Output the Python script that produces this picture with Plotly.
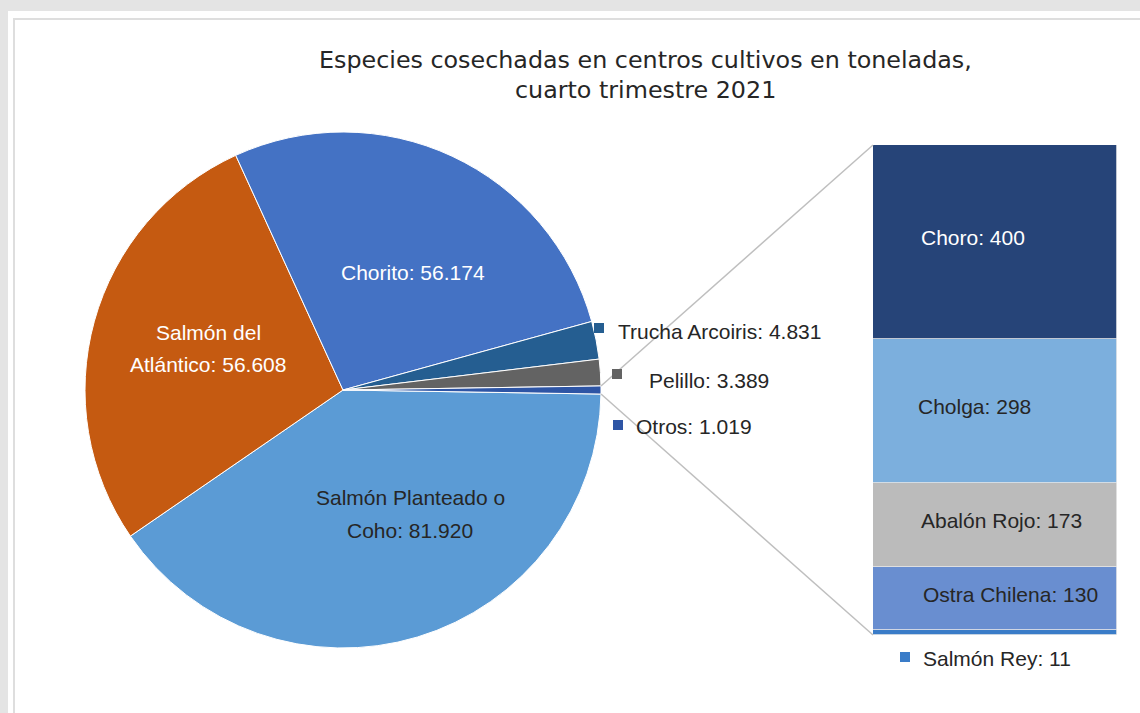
import math
import plotly.graph_objects as go

W, H = 1140, 713

# pie data (clockwise from 3 o'clock)
pie_labels = ["Salmón Planteado o Coho", "Salmón del Atlántico", "Chorito",
              "Trucha Arcoiris", "Pelillo", "Otros"]
pie_values = [81.920, 56.608, 56.174, 4.831, 3.389, 1.019]
pie_text = ["81.920", "56.608", "56.174", "4.831", "3.389", "1.019"]
pie_colors = ["#5B9BD5", "#C55A11", "#4472C4", "#255E91", "#636363", "#2E55A5"]

# bar data ("Otros" broken down), top to bottom
bar_labels = ["Choro", "Cholga", "Abalón Rojo", "Ostra Chilena", "Salmón Rey"]
bar_values = [400, 298, 173, 130, 11]
bar_colors = ["#264478", "#7CAFDD", "#BBBBBB", "#698ED0", "#3A7CC8"]

title_lines = ["Especies cosechadas en centros cultivos en toneladas,",
               "cuarto trimestre 2021"]


def px(x):
    return x / W


def py(y):
    return 1 - y / H


# pie geometry (pixels)
cx, cy, r = 343, 390, 258
bx0, bx1, by0, by1 = 873, 1117, 145, 635

total = sum(pie_values)
otros_deg = pie_values[-1] / total * 360
rotation = 90 + otros_deg / 2

fig = go.Figure()

fig.add_trace(go.Pie(
    labels=pie_labels, values=pie_values, sort=False, direction="clockwise",
    rotation=rotation, marker=dict(colors=pie_colors, line=dict(color="white", width=1)),
    textinfo="none", hoverinfo="label+value", showlegend=False,
    domain=dict(x=[px(cx - r), px(cx + r)], y=[py(cy + r), py(cy - r)]),
))

# stacked bar, bottom-up
for lab, val, col in reversed(list(zip(bar_labels, bar_values, bar_colors))):
    fig.add_trace(go.Bar(
        x=[0], y=[val], name=lab, marker=dict(color=col, line=dict(color="#e8e8e8", width=0.8)),
        width=1, showlegend=False, xaxis="x", yaxis="y",
    ))

fig.update_layout(
    width=W, height=H, margin=dict(l=0, r=0, t=0, b=0),
    paper_bgcolor="#e4e4e4", plot_bgcolor="rgba(0,0,0,0)",
    barmode="stack", bargap=0,
    xaxis=dict(domain=[px(bx0), px(bx1)], range=[-0.5, 0.5], visible=False, fixedrange=True),
    yaxis=dict(domain=[py(by1), py(by0)], range=[0, sum(bar_values)], visible=False, fixedrange=True),
    font=dict(family="Liberation Sans, Arial", size=21, color="#262626"),
)

shapes = [
    dict(type="rect", xref="paper", yref="paper", x0=px(8), x1=px(1145), y0=py(11), y1=py(720),
         fillcolor="white", line=dict(width=0), layer="below"),
    dict(type="rect", xref="paper", yref="paper", x0=px(14), x1=px(1150), y0=py(19), y1=py(725),
         fillcolor="rgba(0,0,0,0)", line=dict(color="#dedede", width=2), layer="below"),
]

# connector lines from the "Otros" slice edges to the bar corners
for sign, by in [(-1, by0), (1, by1)]:
    a = math.radians(90 + sign * otros_deg / 2)
    x0 = cx + r * math.sin(a)
    y0 = cy - r * math.cos(a)
    shapes.append(dict(type="line", xref="paper", yref="paper", x0=px(x0), y0=py(y0),
                       x1=px(bx0), y1=py(by), line=dict(color="#bfbfbf", width=1.5)))

# small key squares for outside labels
squares = [(594, 323, pie_colors[3]), (612, 369, pie_colors[4]),
           (613, 420, pie_colors[5]), (900, 652, bar_colors[4])]
for sx, sy, col in squares:
    shapes.append(dict(type="rect", xref="paper", yref="paper", x0=px(sx), x1=px(sx + 10),
                       y0=py(sy + 10), y1=py(sy), fillcolor=col, line=dict(width=0)))

fig.update_layout(shapes=shapes)

ann = []
# title
for i, t in enumerate(title_lines):
    ann.append(dict(text=t, x=px(645), y=py(60 + i * 30), xref="paper", yref="paper",
                    showarrow=False, xanchor="center", yanchor="middle",
                    font=dict(family="DejaVu Sans", size=23.8, color="#262626")))


def label(lines, x, y, color="#262626", anchor="center", spacing=33):
    for i, t in enumerate(lines):
        ann.append(dict(text=t, x=px(x), y=py(y + i * spacing), xref="paper", yref="paper",
                        showarrow=False, xanchor=anchor, yanchor="middle",
                        font=dict(color=color)))


# pie labels
label([pie_labels[2] + ": " + pie_text[2]], 413, 272, color="white")
label(["Salmón del", "Atlántico: " + pie_text[1]], 208, 332, color="white", spacing=32)
label(["Salmón Planteado o", "Coho: " + pie_text[0]], 410, 497)
label([pie_labels[3] + ": " + pie_text[3]], 616, 331, anchor="left")
label([pie_labels[4] + ": " + pie_text[4]], 647, 380, anchor="left")
label([pie_labels[5] + ": " + pie_text[5]], 634, 427, anchor="left")

# bar labels at segment midpoints
bar_x = [973, 974, 1001, 1010]
base = sum(bar_values)
for i, (lab, val) in enumerate(zip(bar_labels, bar_values)):
    top = base
    base -= val
    if i < len(bar_x):
        ann.append(dict(text=f"{lab}: {val}", x=px(bar_x[i]), y=(top + base) / 2,
                        xref="paper", yref="y", showarrow=False, yshift=4,
                        xanchor="center", yanchor="middle",
                        font=dict(color="white" if i == 0 else "#262626")))
label([f"{bar_labels[-1]}: {bar_values[-1]}"], 921, 658, anchor="left")

fig.update_layout(annotations=ann)

fig.write_html("out.html", config={"displayModeBar": False},
               post_script="document.body.style.margin='0';")
